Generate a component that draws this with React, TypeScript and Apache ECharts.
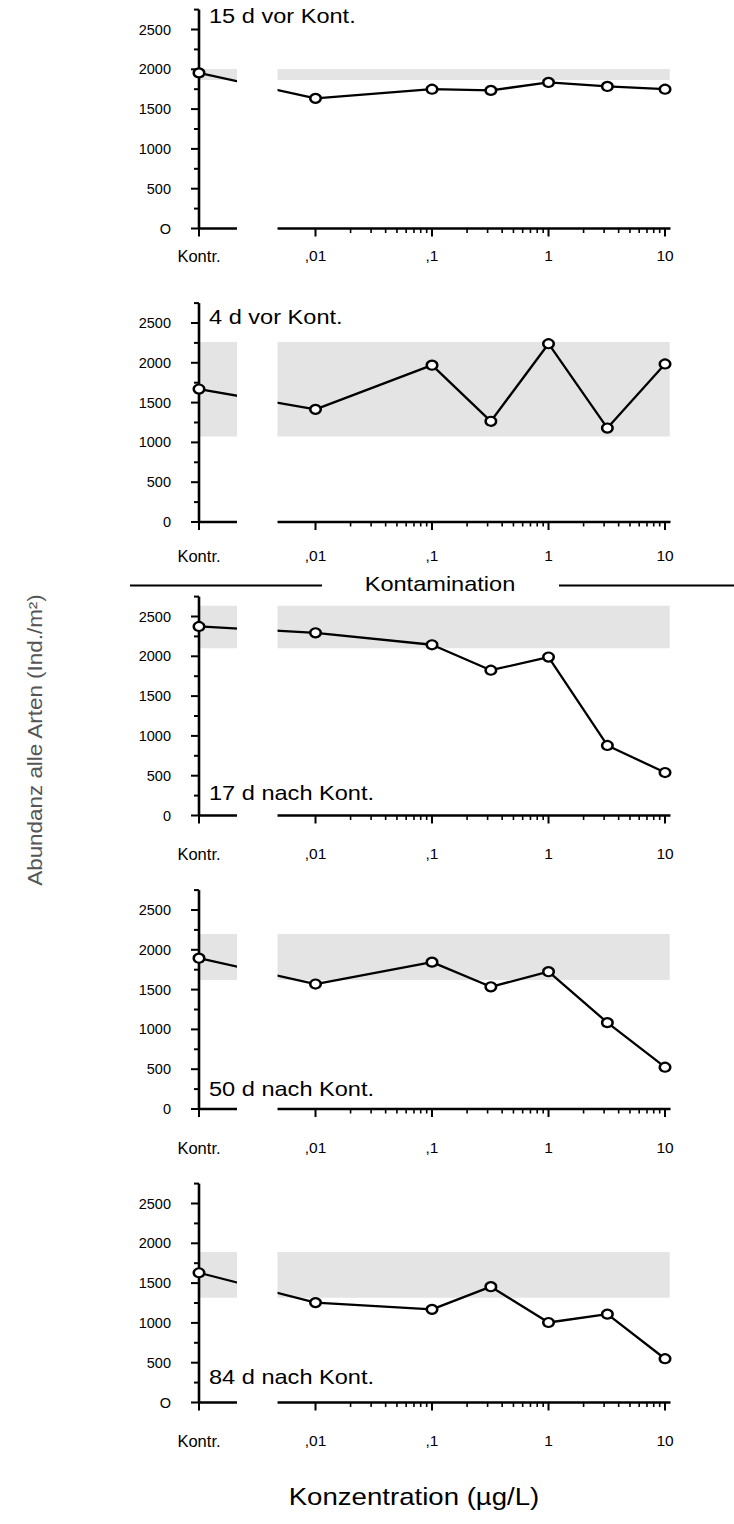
import React, { useEffect, useRef } from 'react';
import * as echarts from 'echarts';

// Concentrations (µg/L); the control is placed one decade left of 0.01
const CONCENTRATIONS: (string | number)[] = ['Kontr.', 0.01, 0.1, 0.32, 1, 3.2, 10];
const CONTROL_LOG = -3;

// Abundance of all species (Ind./m²) per sampling date, in concentration order
const PANEL_TITLES = ['15 d vor Kont.', '4 d vor Kont.', '17 d nach Kont.', '50 d nach Kont.', '84 d nach Kont.'];
const ABUND_15_VOR = [1955, 1635, 1750, 1735, 1835, 1785, 1750];
const ABUND_4_VOR = [1670, 1415, 1970, 1265, 2240, 1180, 1985];
const ABUND_17_NACH = [2375, 2295, 2145, 1825, 1990, 880, 540];
const ABUND_50_NACH = [1895, 1570, 1845, 1535, 1725, 1085, 525];
const ABUND_84_NACH = [1630, 1255, 1170, 1455, 1005, 1110, 550];

// Range of the control replicates [low, high]
const BAND_15_VOR = [1865, 2005];
const BAND_4_VOR = [1075, 2260];
const BAND_17_NACH = [2100, 2635];
const BAND_50_NACH = [1620, 2200];
const BAND_84_NACH = [1315, 1890];

// Axis ticks
const X_TICK_POS = [-3, -2, -1, 0, 1];
const X_TICK_LABELS = ['Kontr.', ',01', ',1', '1', '10'];
const Y_MAX = 2750;
const Y_TICK_STEP = 250;
const ZERO_LABELS = ['O', '0', '0', '0', 'O'];

// Layout
const X_MIN = CONTROL_LOG;
const X_MAX = 1.047;
const GAP_START = -2.674;
const GAP_END = -2.326;
const BAND_END = 1.04;
const PLOT_LEFT = 199;
const PLOT_W = 471.5;
const ZERO_Y = [228.5, 522, 815.5, 1109, 1402.5];
const PLOT_H = (Y_MAX / 2500) * 199;
const X_LABEL_MARGIN = [19, 25, 30, 30, 30];
const FONT = '"Liberation Sans", Arial, Helvetica, sans-serif';
const BAND_COLOR = '#e4e4e4';

const PANELS = [
  { title: PANEL_TITLES[0], values: ABUND_15_VOR, band: BAND_15_VOR, titleY: 16 },
  { title: PANEL_TITLES[1], values: ABUND_4_VOR, band: BAND_4_VOR, titleY: 317 },
  { title: PANEL_TITLES[2], values: ABUND_17_NACH, band: BAND_17_NACH, titleY: 793 },
  { title: PANEL_TITLES[3], values: ABUND_50_NACH, band: BAND_50_NACH, titleY: 1089.5 },
  { title: PANEL_TITLES[4], values: ABUND_84_NACH, band: BAND_84_NACH, titleY: 1377.5 },
];

const X_POS = CONCENTRATIONS.map((c) => (typeof c === 'number' ? Math.log10(c) : CONTROL_LOG));

// log-decade minor ticks from 0.02 up to 9
const X_MINOR: number[] = [];
[-2, -1, 0].forEach((d) => {
  for (let m = 2; m <= 9; m++) X_MINOR.push(d + Math.log10(m));
});
const Y_TICKS: number[] = [];
for (let v = 0; v <= Y_MAX; v += Y_TICK_STEP) Y_TICKS.push(v);

const seg = (p1: number[], p2: number[], w: number) => ({
  type: 'line',
  shape: { x1: p1[0], y1: p1[1], x2: p2[0], y2: p2[1] },
  style: { stroke: '#000', lineWidth: w, lineCap: 'butt' },
});

function renderBand(_params: any, api: any) {
  const a = api.coord([api.value(0), api.value(2)]);
  const b = api.coord([BAND_END, api.value(1)]);
  return {
    type: 'rect',
    shape: { x: a[0], y: a[1], width: b[0] - a[0], height: b[1] - a[1] },
    style: { fill: BAND_COLOR },
  };
}

function renderGap(_params: any, api: any) {
  const a = api.coord([GAP_START, Y_MAX]);
  const b = api.coord([GAP_END, 0]);
  return {
    type: 'rect',
    shape: { x: a[0], y: a[1] - 2, width: b[0] - a[0], height: b[1] - a[1] + 3 },
    style: { fill: '#fff' },
  };
}

function renderFrame(_params: any, api: any) {
  const children: any[] = [];
  const origin = api.coord([CONTROL_LOG, 0]);
  const top = api.coord([CONTROL_LOG, Y_MAX]);
  children.push(seg([origin[0], top[1]], [origin[0], origin[1]], 2.6));
  children.push(seg(api.coord([X_MIN, 0]), api.coord([GAP_START, 0]), 2.6));
  children.push(seg(api.coord([GAP_END, 0]), api.coord([X_MAX, 0]), 2.6));
  Y_TICKS.forEach((v) => {
    const p = api.coord([CONTROL_LOG, v]);
    const len = v % 500 === 0 && v <= 2500 ? 8 : 5;
    children.push(seg([p[0] - len, p[1]], [p[0], p[1]], 2));
  });
  X_TICK_POS.forEach((x) => {
    const p = api.coord([x, 0]);
    children.push(seg([p[0], p[1]], [p[0], p[1] + 8], 2));
  });
  X_MINOR.forEach((x) => {
    const p = api.coord([x, 0]);
    children.push(seg([p[0], p[1]], [p[0], p[1] + 4.5], 1.6));
  });
  return { type: 'group', children };
}

const textEl = (text: string, x: number, y: number, size: number, align: string, extra: any = {}) => ({
  type: 'text',
  x,
  y,
  z: 100,
  scaleX: 1.15,
  ...extra,
  style: {
    text,
    fontSize: size,
    fontFamily: FONT,
    fill: extra.fill || '#000',
    align,
    verticalAlign: 'middle',
    textAlign: align,
    textVerticalAlign: 'middle',
  },
});

function buildOption() {
  const grid: any[] = [];
  const xAxis: any[] = [];
  const yAxis: any[] = [];
  const series: any[] = [];
  const graphic: any[] = [];

  PANELS.forEach((p, k) => {
    grid.push({ left: PLOT_LEFT, width: PLOT_W, top: ZERO_Y[k] - PLOT_H, height: PLOT_H });
    xAxis.push({
      gridIndex: k,
      type: 'value',
      min: X_MIN,
      max: X_MAX,
      interval: 1,
      axisLine: { show: false },
      axisTick: { show: false },
      splitLine: { show: false },
      axisLabel: {
        margin: X_LABEL_MARGIN[k],
        fontSize: 15.5,
        fontFamily: FONT,
        color: '#000',
        formatter: (v: number) => {
          const i = X_TICK_POS.findIndex((t) => Math.abs(t - v) < 1e-6);
          if (i < 0) return '';
          return i === 0 ? `{k|${X_TICK_LABELS[0]}}` : X_TICK_LABELS[i];
        },
        rich: { k: { fontSize: 16.5, fontFamily: FONT, color: '#000' } },
      },
    });
    yAxis.push({
      gridIndex: k,
      type: 'value',
      min: 0,
      max: Y_MAX,
      interval: 500,
      axisLine: { show: false },
      axisTick: { show: false },
      splitLine: { show: false },
      axisLabel: {
        margin: 28,
        fontSize: 14.5,
        fontFamily: FONT,
        color: '#000',
        formatter: (v: number) => (v === 0 ? ZERO_LABELS[k] : v > 2500 ? '' : String(v)),
      },
    });

    const pts = X_POS.map((x, i) => [x, p.values[i]]);
    const common = { xAxisIndex: k, yAxisIndex: k, silent: true };
    series.push({
      ...common,
      type: 'custom',
      z: 1,
      data: [[CONTROL_LOG, p.band[0], p.band[1]]],
      encode: { x: 0, y: [1, 2] },
      renderItem: renderBand,
    });
    series.push({
      ...common,
      type: 'line',
      z: 2,
      data: pts,
      symbol: 'none',
      showSymbol: false,
      lineStyle: { color: '#000', width: 2.3 },
    });
    series.push({ ...common, type: 'custom', z: 3, data: [[GAP_START, 0]], renderItem: renderGap });
    series.push({ ...common, type: 'custom', z: 4, data: [[CONTROL_LOG, 0]], renderItem: renderFrame });
    series.push({
      ...common,
      type: 'scatter',
      z: 6,
      data: pts,
      symbol: 'circle',
      symbolSize: [10.5, 9],
      itemStyle: { color: '#fff', borderColor: '#000', borderWidth: 2.3, opacity: 1 },
    });

    graphic.push(textEl(p.title, 209, p.titleY, 20.5, 'left'));
  });

  // "Kontamination" divider between pre- and post-contamination panels
  graphic.push(
    { type: 'line', z: 100, shape: { x1: 130, y1: 585.5, x2: 322, y2: 585.5 }, style: { stroke: '#000', lineWidth: 2 } },
    { type: 'line', z: 100, shape: { x1: 559, y1: 585.5, x2: 734, y2: 585.5 }, style: { stroke: '#000', lineWidth: 2 } },
    textEl('Kontamination', 440, 584, 20.5, 'center'),
    textEl('Konzentration (µg/L)', 414, 1496.5, 24, 'center'),
    textEl('Abundanz alle Arten (Ind./m²)', 35, 740, 19.5, 'center', { rotation: Math.PI / 2, fill: '#555' })
  );

  return {
    animation: false,
    backgroundColor: '#fff',
    grid,
    xAxis,
    yAxis,
    series,
    graphic,
  };
}

export default function App() {
  const ref = useRef<HTMLDivElement>(null);
  useEffect(() => {
    if (!ref.current) return;
    const chart = echarts.init(ref.current, undefined, { renderer: 'svg' });
    chart.setOption(buildOption());
    return () => chart.dispose();
  }, []);
  return (
    <div
      ref={ref}
      style={{ position: 'absolute', left: 0, top: 0, width: 734, height: 1524, background: '#fff' }}
    />
  );
}
